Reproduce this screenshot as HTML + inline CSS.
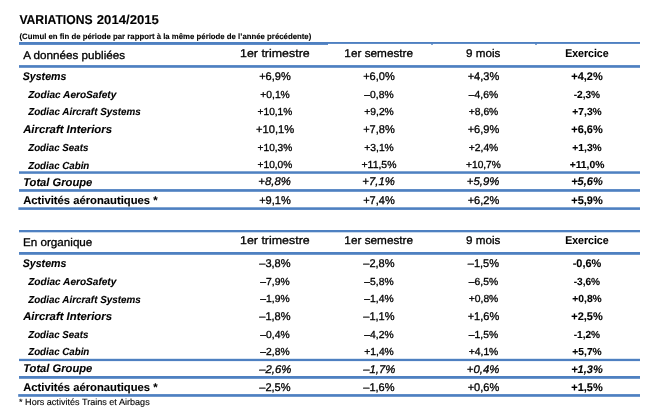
<!DOCTYPE html>
<html lang="fr">
<head>
<meta charset="utf-8">
<title>Variations 2014/2015</title>
<style>
html,body{margin:0;padding:0;background:#fff;}
body{width:671px;height:412px;overflow:hidden;position:relative;}
svg{position:absolute;left:0;top:0;display:block;}
text{font-family:"Liberation Sans",sans-serif;fill:#000;stroke:#000;stroke-width:0.3px;white-space:pre;text-rendering:geometricPrecision;}
.b{font-weight:bold;stroke-width:0.1px}.i{font-style:italic}.n{stroke-width:0.12px}
.ln{fill:#4e80c1}
</style>
</head>
<body>
<svg width="671" height="412" viewBox="0 0 671 412">
<rect class="ln" x="19" y="42" width="309" height="2.9"/>
<rect class="ln" x="328" y="42" width="312" height="1.9"/>
<rect class="ln" x="19" y="65.1" width="621" height="2.7"/>
<rect class="ln" x="19" y="171.3" width="621" height="2.5"/>
<rect class="ln" x="19" y="189.1" width="621" height="2.7"/>
<rect class="ln" x="18.4" y="207.3" width="621.6" height="2.6"/>
<rect class="ln" x="19" y="230" width="621" height="2.3"/>
<rect class="ln" x="19" y="252" width="621" height="2.8"/>
<rect class="ln" x="19" y="358.8" width="621" height="2.3"/>
<rect class="ln" x="19" y="376" width="621" height="2.8"/>
<rect class="ln" x="18.2" y="394.1" width="621.8" height="2.7"/>
<rect class="ln" x="431" y="43.6" width="2" height="1.1"/>
<rect class="ln" x="535" y="43.6" width="2" height="1.1"/>
<text class="b" font-size="12.9" transform="translate(19.39,23.80) scale(0.9429,1)">VARIATIONS</text>
<text class="b" font-size="12.9" transform="translate(96.76,23.80) scale(1.0199,1)">2014/2015</text>
<text class="b" font-size="7.85" transform="translate(19.53,39.00) scale(0.9930,1)">(Cumul en fin de période par rapport à la même période de l’année précédente)</text>
<text font-size="11.2" transform="translate(23.18,58.90) scale(1.0430,1)">A données publiées</text>
<text font-size="11.2" transform="translate(239.99,56.80) scale(1.1098,1)">1er trimestre</text>
<text font-size="11.2" transform="translate(344.36,56.80) scale(1.0522,1)">1er semestre</text>
<text font-size="11.2" transform="translate(466.01,56.80) scale(1.0422,1)">9 mois</text>
<text class="b" font-size="11.2" transform="translate(565.17,56.90) scale(0.9422,1)">Exercice</text>
<text class="b i" font-size="11.2" transform="translate(22.75,79.85) scale(0.9478,1)">Systems</text>
<text font-size="11.2" transform="translate(259.17,79.65) scale(0.9866,1)">+6,9%</text>
<text font-size="11.2" transform="translate(363.17,79.65) scale(0.9866,1)">+6,0%</text>
<text font-size="11.2" transform="translate(467.67,79.65) scale(0.9866,1)">+4,3%</text>
<text class="b" font-size="11.2" transform="translate(571.27,79.65) scale(0.9822,1)">+4,2%</text>
<text class="b i" font-size="10.2" transform="translate(28.20,97.60) scale(0.9894,1)">Zodiac AeroSafety</text>
<text font-size="10.2" transform="translate(260.23,97.60) scale(1.0141,1)">+0,1%</text>
<text font-size="10.2" transform="translate(364.37,97.60) scale(1.0134,1)">–0,8%</text>
<text font-size="10.2" transform="translate(468.87,97.60) scale(1.0134,1)">–4,6%</text>
<text class="b" font-size="10.2" transform="translate(573.64,97.60) scale(0.9958,1)">-2,3%</text>
<text class="b i" font-size="10.2" transform="translate(28.20,114.90) scale(0.9679,1)">Zodiac Aircraft Systems</text>
<text font-size="10.2" transform="translate(257.54,114.90) scale(0.9977,1)">+10,1%</text>
<text font-size="10.2" transform="translate(364.23,114.90) scale(1.0141,1)">+9,2%</text>
<text font-size="10.2" transform="translate(468.73,114.90) scale(1.0141,1)">+8,6%</text>
<text class="b" font-size="10.2" transform="translate(572.33,114.90) scale(1.0088,1)">+7,3%</text>
<text class="b i" font-size="11.2" transform="translate(23.15,132.80) scale(1.0134,1)">Aircraft Interiors</text>
<text font-size="11.2" transform="translate(255.92,132.75) scale(0.9989,1)">+10,1%</text>
<text font-size="11.2" transform="translate(363.17,132.75) scale(0.9866,1)">+7,8%</text>
<text font-size="11.2" transform="translate(467.67,132.75) scale(0.9866,1)">+6,9%</text>
<text class="b" font-size="11.2" transform="translate(571.27,132.75) scale(0.9822,1)">+6,6%</text>
<text class="b i" font-size="10.2" transform="translate(28.20,150.50) scale(0.9562,1)">Zodiac Seats</text>
<text font-size="10.2" transform="translate(257.54,150.50) scale(0.9977,1)">+10,3%</text>
<text font-size="10.2" transform="translate(364.23,150.50) scale(1.0141,1)">+3,1%</text>
<text font-size="10.2" transform="translate(468.73,150.50) scale(1.0141,1)">+2,4%</text>
<text class="b" font-size="10.2" transform="translate(572.33,150.50) scale(1.0088,1)">+1,3%</text>
<text class="b i" font-size="10.2" transform="translate(28.20,168.50) scale(0.9556,1)">Zodiac Cabin</text>
<text font-size="10.2" transform="translate(257.54,168.40) scale(0.9977,1)">+10,0%</text>
<text font-size="10.2" transform="translate(361.53,168.40) scale(1.0239,1)">+11,5%</text>
<text font-size="10.2" transform="translate(466.04,168.40) scale(0.9977,1)">+10,7%</text>
<text class="b" font-size="10.2" transform="translate(569.63,168.40) scale(1.0156,1)">+11,0%</text>
<text class="b i" font-size="11.2" transform="translate(23.17,185.50) scale(0.9986,1)">Total Groupe</text>
<text class="i" font-size="11.2" transform="translate(258.35,185.40) scale(1.0140,1)">+8,8%</text>
<text class="i" font-size="11.2" transform="translate(362.35,185.40) scale(1.0140,1)">+7,1%</text>
<text class="i" font-size="11.2" transform="translate(466.85,185.40) scale(1.0140,1)">+5,9%</text>
<text class="b i" font-size="11.2" transform="translate(571.16,185.40) scale(0.9863,1)">+5,6%</text>
<text class="b" font-size="11.2" transform="translate(23.16,203.50) scale(1.0053,1)">Activités aéronautiques *</text>
<text font-size="11.2" transform="translate(259.17,203.50) scale(0.9866,1)">+9,1%</text>
<text font-size="11.2" transform="translate(363.17,203.50) scale(0.9866,1)">+7,4%</text>
<text font-size="11.2" transform="translate(467.67,203.50) scale(0.9866,1)">+6,2%</text>
<text class="b" font-size="11.2" transform="translate(571.27,203.50) scale(0.9822,1)">+5,9%</text>
<text font-size="11.2" transform="translate(22.95,245.60) scale(1.0427,1)">En organique</text>
<text font-size="11.2" transform="translate(239.99,244.10) scale(1.1098,1)">1er trimestre</text>
<text font-size="11.2" transform="translate(344.36,244.10) scale(1.0522,1)">1er semestre</text>
<text font-size="11.2" transform="translate(466.01,244.10) scale(1.0422,1)">9 mois</text>
<text class="b" font-size="11.2" transform="translate(565.17,244.20) scale(0.9422,1)">Exercice</text>
<text class="b i" font-size="11.2" transform="translate(22.75,267.00) scale(0.9478,1)">Systems</text>
<text font-size="11.2" transform="translate(259.26,266.75) scale(0.9876,1)">–3,8%</text>
<text font-size="11.2" transform="translate(363.26,266.75) scale(0.9876,1)">–2,8%</text>
<text font-size="11.2" transform="translate(467.76,266.75) scale(0.9876,1)">–1,5%</text>
<text class="b" font-size="11.2" transform="translate(572.72,266.75) scale(0.9779,1)">-0,6%</text>
<text class="b i" font-size="10.2" transform="translate(28.20,284.90) scale(0.9894,1)">Zodiac AeroSafety</text>
<text font-size="10.2" transform="translate(260.37,284.80) scale(1.0134,1)">–7,9%</text>
<text font-size="10.2" transform="translate(364.37,284.80) scale(1.0134,1)">–5,8%</text>
<text font-size="10.2" transform="translate(468.87,284.80) scale(1.0134,1)">–6,5%</text>
<text class="b" font-size="10.2" transform="translate(573.64,284.80) scale(0.9958,1)">-3,6%</text>
<text class="b i" font-size="10.2" transform="translate(28.20,302.50) scale(0.9679,1)">Zodiac Aircraft Systems</text>
<text font-size="10.2" transform="translate(260.37,302.40) scale(1.0134,1)">–1,9%</text>
<text font-size="10.2" transform="translate(364.37,302.40) scale(1.0134,1)">–1,4%</text>
<text font-size="10.2" transform="translate(468.73,302.40) scale(1.0141,1)">+0,8%</text>
<text class="b" font-size="10.2" transform="translate(572.33,302.40) scale(1.0088,1)">+0,8%</text>
<text class="b i" font-size="11.2" transform="translate(23.15,319.60) scale(1.0134,1)">Aircraft Interiors</text>
<text font-size="11.2" transform="translate(259.26,319.75) scale(0.9876,1)">–1,8%</text>
<text font-size="11.2" transform="translate(363.26,319.75) scale(0.9876,1)">–1,1%</text>
<text font-size="11.2" transform="translate(467.67,319.75) scale(0.9866,1)">+1,6%</text>
<text class="b" font-size="11.2" transform="translate(571.27,319.75) scale(0.9822,1)">+2,5%</text>
<text class="b i" font-size="10.2" transform="translate(28.20,337.50) scale(0.9562,1)">Zodiac Seats</text>
<text font-size="10.2" transform="translate(260.37,337.70) scale(1.0134,1)">–0,4%</text>
<text font-size="10.2" transform="translate(364.37,337.70) scale(1.0134,1)">–4,2%</text>
<text font-size="10.2" transform="translate(468.87,337.70) scale(1.0134,1)">–1,5%</text>
<text class="b" font-size="10.2" transform="translate(573.64,337.70) scale(0.9958,1)">-1,2%</text>
<text class="b i" font-size="10.2" transform="translate(28.20,355.30) scale(0.9556,1)">Zodiac Cabin</text>
<text font-size="10.2" transform="translate(260.37,355.45) scale(1.0134,1)">–2,8%</text>
<text font-size="10.2" transform="translate(364.23,355.45) scale(1.0141,1)">+1,4%</text>
<text font-size="10.2" transform="translate(468.73,355.45) scale(1.0141,1)">+4,1%</text>
<text class="b" font-size="10.2" transform="translate(572.33,355.45) scale(1.0088,1)">+5,7%</text>
<text class="b i" font-size="11.2" transform="translate(23.17,372.40) scale(0.9986,1)">Total Groupe</text>
<text class="i" font-size="11.2" transform="translate(259.24,372.55) scale(1.0128,1)">–2,6%</text>
<text class="i" font-size="11.2" transform="translate(363.24,372.55) scale(1.0128,1)">–1,7%</text>
<text class="i" font-size="11.2" transform="translate(466.85,372.55) scale(1.0140,1)">+0,4%</text>
<text class="b i" font-size="11.2" transform="translate(571.16,372.55) scale(0.9863,1)">+1,3%</text>
<text class="b" font-size="11.2" transform="translate(23.16,390.60) scale(1.0053,1)">Activités aéronautiques *</text>
<text font-size="11.2" transform="translate(259.26,390.50) scale(0.9876,1)">–2,5%</text>
<text font-size="11.2" transform="translate(363.26,390.50) scale(0.9876,1)">–1,6%</text>
<text font-size="11.2" transform="translate(467.67,390.50) scale(0.9866,1)">+0,6%</text>
<text class="b" font-size="11.2" transform="translate(571.27,390.50) scale(0.9822,1)">+1,5%</text>
<text class="n" font-size="9.0" transform="translate(19.03,404.70) scale(1.0086,1)">* Hors activités Trains et Airbags</text>
</svg>
</body>
</html>
